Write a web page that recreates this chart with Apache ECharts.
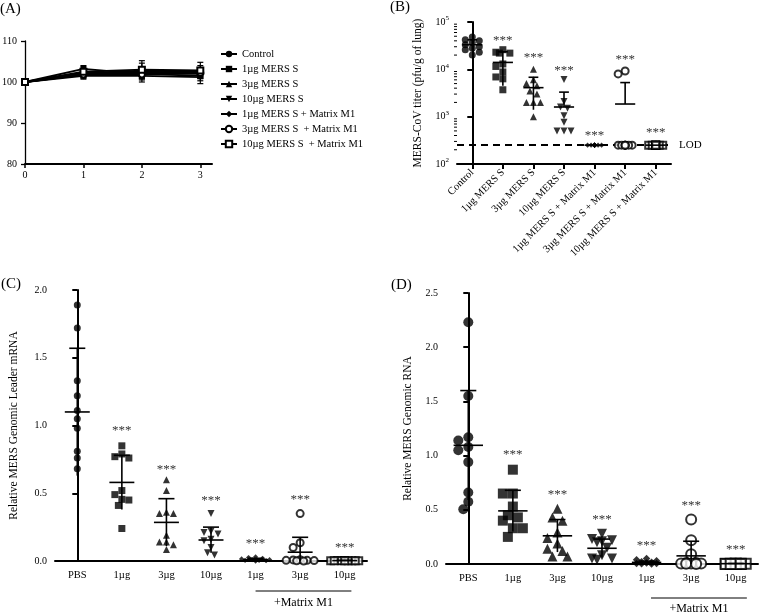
<!DOCTYPE html>
<html><head><meta charset="utf-8">
<script src="https://cdn.jsdelivr.net/npm/echarts@6/dist/echarts.min.js"></script>
<style>html,body{margin:0;padding:0;background:#fff}#c{width:761px;height:616px}</style>
</head><body><div id="c"></div>
<script>
const FONT = '"Liberation Serif","Times New Roman",serif';

// ---------- Panel A: body weight ----------
const daysA = [0, 1, 2, 3];
const namesA = ['Control', '1µg MERS S', '3µg MERS S', '10µg MERS S', '1µg MERS S + Matrix M1', '3µg MERS S  + Matrix M1', '10µg MERS S  + Matrix M1'];
const wControl = [100, 102.2, 102.5, 102.3];
const w1ug = [100, 103.2, 102.0, 101.5];
const w3ug = [100, 101.8, 102.8, 102.5];
const w10ug = [100, 101.5, 101.5, 101.2];
const w1ugM1 = [100, 102.0, 102.2, 102.0];
const w3ugM1 = [100, 101.8, 101.8, 102.2];
const w10ugM1 = [100, 102.5, 103.0, 102.8];
const sdControl = [0, 0.8, 1.2, 1.0];
const sd1ug = [0, 0.8, 1.5, 1.2];
const sd3ug = [0, 0.9, 1.8, 1.5];
const sd10ug = [0, 0.8, 1.5, 1.6];
const sd1ugM1 = [0, 0.5, 1.0, 1.0];
const sd3ugM1 = [0, 0.7, 1.0, 0.8];
const sd10ugM1 = [0, 0.6, 2.2, 2.0];
const yTicksA = [80, 90, 100, 110];

// ---------- Panel B: lung titer (log) ----------
const catsB = ['Control', '1µg MERS S', '3µg MERS S', '10µg MERS S', '1µg MERS S + Matrix M1', '3µg MERS S + Matrix M1', '10µg MERS S + Matrix M1'];
const bControl = [48000, 42000, 40000, 37000, 33000, 30000, 28000, 26000, 23000, 20000];
const b1ug = [26000, 23000, 22000, 22000, 13000, 11500, 8800, 6900, 6300, 3700];
const b3ug = [10000, 6000, 5000, 4500, 3500, 3000, 2000, 2000, 2000, 1000];
const b10ug = [6100, 2100, 1600, 1500, 1050, 760, 500, 500, 500];
const b1ugM1 = [250, 250, 250, 250, 250, 250, 250, 250, 250, 250];
const b3ugM1 = [9200, 8000, 250, 250, 250, 250, 250, 250, 250, 250];
const b10ugM1 = [250, 250, 250, 250, 250, 250, 250, 250, 250, 250];
const meanB = [33000, 14000, 4100, 1600, 250, 1850, 250];
const sdB = [9000, 9500, 2700, 1700, 0, 3400, 0];
const astB = [null, 45000, 20000, 10500, 450, 18000, 520];
const LOD = 250;

// ---------- Panel C: genomic leader mRNA ----------
const catsCD = ['PBS', '1µg', '3µg', '10µg', '1µg', '3µg', '10µg'];
const cPBS = [1.89, 1.72, 1.33, 1.22, 1.11, 1.05, 0.98, 0.81, 0.76, 0.68];
const c1ug = [0.85, 0.79, 0.77, 0.76, 0.52, 0.49, 0.455, 0.45, 0.41, 0.24];
const c3ug = [0.60, 0.52, 0.36, 0.35, 0.35, 0.19, 0.14, 0.14, 0.12, 0.085];
const c10ug = [0.35, 0.22, 0.21, 0.20, 0.16, 0.15, 0.10, 0.06, 0.045];
const c1ugM1 = [0.03, 0.025, 0.02, 0.015, 0.01, 0.01, 0.005, 0.005, 0.002, 0.0];
const c3ugM1 = [0.35, 0.135, 0.10, 0.01, 0.008, 0.005, 0.005, 0.003, 0.002, 0.0];
const c10ugM1 = [0.003, 0.003, 0.002, 0.002, 0.002, 0.002, 0.001, 0.001, 0.001, 0.001];
const meanC = [1.10, 0.58, 0.285, 0.155, 0.01, 0.065, 0.003];
const sdC = [0.47, 0.20, 0.175, 0.095, 0.01, 0.11, 0.002];
const astC = [null, 0.98, 0.69, 0.465, 0.15, 0.47, 0.12];

// ---------- Panel D: genomic RNA ----------
const dPBS = [2.23, 1.55, 1.17, 1.14, 1.08, 1.05, 0.94, 0.66, 0.575, 0.505];
const d1ug = [0.87, 0.65, 0.65, 0.53, 0.45, 0.43, 0.40, 0.33, 0.33, 0.25];
const d3ug = [0.51, 0.43, 0.40, 0.29, 0.24, 0.19, 0.14, 0.12, 0.07, 0.07];
const d10ug = [0.28, 0.23, 0.22, 0.21, 0.20, 0.15, 0.08, 0.05, 0.05, 0.04];
const d1ugM1 = [0.05, 0.04, 0.03, 0.02, 0.015, 0.01, 0.005, 0.005, 0.002, 0.0];
const d3ugM1 = [0.41, 0.22, 0.09, 0.01, 0.01, 0.005, 0.005, 0.005, 0.002, 0.0];
const d10ugM1 = [0.003, 0.003, 0.002, 0.002, 0.002, 0.002, 0.001, 0.001, 0.001, 0.001];
const meanD = [1.095, 0.49, 0.26, 0.145, 0.015, 0.075, 0.003];
const sdD = [0.505, 0.19, 0.15, 0.085, 0.012, 0.135, 0.002];
const astD = [null, 1.03, 0.66, 0.43, 0.19, 0.56, 0.16];

// ---------- layout ----------
const GA = {left: 25, top: 41, width: 187, height: 123};
const GB = {left: 457, top: 22, width: 214, height: 142};
const GC = {left: 55, top: 290, width: 312, height: 271};
const GD = {left: 446, top: 293, width: 312, height: 271};

const INV_TRI = 'path://M0,0L2,0L1,1.8Z';
const groupSymbols = ['circle', 'rect', 'triangle', INV_TRI, 'diamond', 'emptyCircle', 'emptyRect'];

function swarm(vals, toPx, catPx, size, maxFrac) {
  const idx = vals.map((v, i) => i).sort((a, b) => vals[b] - vals[a]);
  const step = size * 0.5, minD = size * 0.9, maxOff = maxFrac * catPx;
  const cands = [0];
  for (let k = 1; k * step <= maxOff + 0.01; k++) cands.push(-k * step, k * step);
  const placed = [], offs = new Array(vals.length);
  idx.forEach(i => {
    const py = toPx(vals[i]);
    let best = 0, bestD = -1;
    for (const c of cands) {
      let d = Infinity;
      for (const p of placed) { const dd = Math.hypot(p[0] - c, p[1] - py); if (dd < d) d = dd; }
      if (d >= minD) { best = c; bestD = d; break; }
      if (d > bestD) { bestD = d; best = c; }
    }
    placed.push([best, py]);
    offs[i] = best / catPx;
  });
  return offs;
}

function groupSeries(groups, xi, yi, size, toPx, catPx, extra) {
  return groups.map((vals, g) => {
    const offs = swarm(vals, toPx, catPx, size, 0.33);
    const s = {
      type: 'scatter', xAxisIndex: xi, yAxisIndex: yi, silent: true, z: 3,
      symbol: groupSymbols[g], symbolSize: g === 4 ? size * 0.75 : size,
      itemStyle: {color: '#000'},
      data: vals.map((v, i) => [g + offs[i], v])
    };
    if (g === 0 && extra) Object.assign(s, extra);
    return s;
  });
}

function errSeries(means, sds, xi, yi, mw, cw, isLog) {
  return {
    type: 'custom', xAxisIndex: xi, yAxisIndex: yi, z: 5, silent: true,
    data: means.map((m, i) => [i, m, (m - sds[i] > 0 ? m - sds[i] : (isLog ? '-' : 0)), m + sds[i], sds[i]]),
    renderItem(params, api) {
      const i = api.value(0), m = api.value(1), lo = api.value(2), hi = api.value(3), sd = api.value(4);
      const pm = api.coord([i, m]);
      const dx = api.coord([i + 1, m])[0] - pm[0];
      const st = {stroke: '#000', lineWidth: 1.6};
      const ch = [{type: 'line', shape: {x1: pm[0] - dx * mw, y1: pm[1], x2: pm[0] + dx * mw, y2: pm[1]}, style: st}];
      if (sd > 0) {
        const ph = api.coord([i, hi]);
        let yb = pm[1];
        ch.push({type: 'line', shape: {x1: pm[0] - dx * cw, y1: ph[1], x2: pm[0] + dx * cw, y2: ph[1]}, style: st});
        if (!isNaN(lo)) yb = api.coord([i, lo])[1];
        ch.push({type: 'line', shape: {x1: pm[0], y1: ph[1], x2: pm[0], y2: yb}, style: st});
      }
      return {type: 'group', children: ch};
    }
  };
}

function starSeries(vals, xi, yi) {
  return {
    type: 'custom', xAxisIndex: xi, yAxisIndex: yi, z: 6, silent: true,
    data: vals.map((v, i) => v == null ? null : [i, v]).filter(d => d),
    renderItem(params, api) {
      const p = api.coord([api.value(0), api.value(1)]);
      return {type: 'text', x: p[0], y: p[1] - 4,
        style: {text: '***', fill: '#333', fontSize: 13, fontFamily: FONT, align: 'center', verticalAlign: 'top'}};
    }
  };
}

function bracketSeries(xi, yi, from, to, lineOff, textOff) {
  return {
    type: 'custom', xAxisIndex: xi, yAxisIndex: yi, z: 6, silent: true,
    data: [[from, to]],
    renderItem(params, api) {
      const p1 = api.coord([api.value(0), 0]);
      const p2 = api.coord([api.value(1), 0]);
      const y = p1[1] + lineOff;
      return {type: 'group', children: [
        {type: 'line', shape: {x1: p1[0], y1: y, x2: p2[0], y2: y}, style: {stroke: '#000', lineWidth: 1}},
        {type: 'text', x: (p1[0] + p2[0]) / 2, y: p1[1] + textOff,
          style: {text: '+Matrix M1', fill: '#000', fontSize: 12, fontFamily: FONT, align: 'center', verticalAlign: 'middle'}}
      ]};
    }
  };
}

// ---------- axes ----------
const axLine = w => ({show: true, lineStyle: {color: '#000', width: w}});
const lbl = (size, margin) => ({color: '#000', fontSize: size, fontFamily: FONT, margin: margin});
const hiddenX = (gi) => ({gridIndex: gi, type: 'value', min: -0.5, max: 6.5, show: false});

const xAxes = [
  {gridIndex: 0, type: 'value', min: 0, max: 3.2, axisLine: axLine(2),
    axisTick: {show: true, length: 4, customValues: daysA, lineStyle: {width: 1.5, color: '#000'}},
    axisLabel: Object.assign(lbl(10, 6), {customValues: daysA}), splitLine: {show: false}},
  {gridIndex: 1, type: 'category', data: catsB, axisLine: axLine(2),
    axisTick: {show: true, alignWithLabel: true, length: 5, lineStyle: {width: 2, color: '#000'}},
    axisLabel: Object.assign(lbl(10.5, 7), {rotate: 45, interval: 0})},
  hiddenX(1),
  {gridIndex: 2, type: 'category', data: catsCD.map((c, i) => String(i)), axisLine: axLine(2), axisTick: {show: false},
    axisLabel: Object.assign(lbl(10.5, 9), {interval: 0, formatter: (v, i) => catsCD[i]})},
  hiddenX(2),
  {gridIndex: 3, type: 'category', data: catsCD.map((c, i) => String(i)), axisLine: axLine(2), axisTick: {show: false},
    axisLabel: Object.assign(lbl(10.5, 9), {interval: 0, formatter: (v, i) => catsCD[i]})},
  hiddenX(3)
];

const nameStyle = {color: '#000', fontSize: 11.5, fontFamily: FONT};
const yAxes = [
  {gridIndex: 0, type: 'value', min: yTicksA[0], max: yTicksA[yTicksA.length - 1], interval: 10, axisLine: axLine(1.3),
    axisTick: {show: true, length: 4, lineStyle: {width: 1.3, color: '#000'}}, axisLabel: lbl(10, 8), splitLine: {show: false}},
  {gridIndex: 1, type: 'log', logBase: 10, min: 100, max: 100000, axisLine: axLine(2),
    axisTick: {show: true, length: 5, lineStyle: {width: 2, color: '#000'}},
    axisLabel: Object.assign(lbl(10, 8), {
      formatter: v => '{a|10}{b|' + Math.round(Math.log10(v)) + '}',
      rich: {a: {fontSize: 10, fontFamily: FONT, color: '#000'}, b: {fontSize: 7, fontFamily: FONT, color: '#000', padding: [0, 0, 7, 0]}}
    }),
    splitLine: {show: false}, minorTick: {show: false},
    name: 'MERS-CoV titer (pfu/g of lung)', nameLocation: 'middle', nameGap: 33, nameTextStyle: nameStyle},
  {gridIndex: 2, type: 'value', min: 0, max: 2, interval: 0.5, axisLine: axLine(2),
    axisTick: {show: true, length: 5, lineStyle: {width: 2, color: '#000'}},
    axisLabel: Object.assign(lbl(10, 8), {formatter: v => v.toFixed(1)}), splitLine: {show: false},
    name: 'Relative MERS Genomic Leader mRNA', nameLocation: 'middle', nameGap: 35, nameTextStyle: nameStyle},
  {gridIndex: 3, type: 'value', min: 0, max: 2.5, interval: 0.5, axisLine: axLine(2),
    axisTick: {show: true, length: 5, lineStyle: {width: 2, color: '#000'}},
    axisLabel: Object.assign(lbl(10, 8), {formatter: v => v.toFixed(1)}), splitLine: {show: false},
    name: 'Relative MERS Genomic RNA', nameLocation: 'middle', nameGap: 32, nameTextStyle: nameStyle}
];

// ---------- series ----------
const wA = [wControl, w1ug, w3ug, w10ug, w1ugM1, w3ugM1, w10ugM1];
const sdA = [sdControl, sd1ug, sd3ug, sd10ug, sd1ugM1, sd3ugM1, sd10ugM1];
const symA = ['circle', 'rect', 'triangle', INV_TRI, 'diamond', 'emptyCircle', 'emptyRect'];
const series = [];

wA.forEach((w, k) => {
  series.push({
    type: 'line', name: namesA[k], xAxisIndex: 0, yAxisIndex: 0, z: 4,
    symbol: symA[k], symbolSize: k === 4 ? 5 : 6, showSymbol: true,
    itemStyle: {color: '#000'}, lineStyle: {color: '#000', width: 1.8},
    data: daysA.map((d, i) => [d, w[i]])
  });
});
const errA = [];
wA.forEach((w, k) => daysA.forEach((d, i) => { if (sdA[k][i] > 0) errA.push([d, w[i] - sdA[k][i], w[i] + sdA[k][i]]); }));
series.push({
  type: 'custom', xAxisIndex: 0, yAxisIndex: 0, z: 3, silent: true, data: errA,
  renderItem(params, api) {
    const pl = api.coord([api.value(0), api.value(1)]);
    const ph = api.coord([api.value(0), api.value(2)]);
    const st = {stroke: '#000', lineWidth: 1.2};
    return {type: 'group', children: [
      {type: 'line', shape: {x1: pl[0], y1: pl[1], x2: ph[0], y2: ph[1]}, style: st},
      {type: 'line', shape: {x1: pl[0] - 3, y1: pl[1], x2: pl[0] + 3, y2: pl[1]}, style: st},
      {type: 'line', shape: {x1: ph[0] - 3, y1: ph[1], x2: ph[0] + 3, y2: ph[1]}, style: st}
    ]};
  }
});

// Panel B
const decB = GB.height / 3;
const catB = GB.width / 7;
series.push(...groupSeries([bControl, b1ug, b3ug, b10ug, b1ugM1, b3ugM1, b10ugM1], 2, 1, 7,
  v => Math.log10(v) * decB, catB, {
    markLine: {silent: true, symbol: 'none', z: 2, data: [{yAxis: LOD}],
      lineStyle: {type: [7, 5], width: 2, color: '#000'},
      label: {show: true, position: 'end', formatter: 'LOD', color: '#000', fontSize: 11, fontFamily: FONT, distance: 8}}
  }));
series.push(errSeries(meanB, sdB, 2, 1, 0.33, 0.16, true));
series.push(starSeries(astB, 2, 1));
const minorB = [];
for (let e = 2; e <= 4; e++) for (let m = 2; m <= 9; m++) minorB.push([-0.5, m * Math.pow(10, e)]);
series.push({
  type: 'custom', xAxisIndex: 2, yAxisIndex: 1, z: 6, silent: true, data: minorB,
  renderItem(params, api) {
    const p = api.coord([api.value(0), api.value(1)]);
    return {type: 'line', shape: {x1: p[0] - 3, y1: p[1], x2: p[0], y2: p[1]}, style: {stroke: '#000', lineWidth: 1}};
  }
});

// Panel C
const catC = GC.width / 7;
series.push(...groupSeries([cPBS, c1ug, c3ug, c10ug, c1ugM1, c3ugM1, c10ugM1], 4, 2, 7,
  v => v * GC.height / 2, catC));
series.push(errSeries(meanC, sdC, 4, 2, 0.28, 0.18, false));
series.push(starSeries(astC, 4, 2));
series.push(bracketSeries(4, 2, 4.0, 6.15, 30, 42));

// Panel D
const catD = GD.width / 7;
series.push(...groupSeries([dPBS, d1ug, d3ug, d10ug, d1ugM1, d3ugM1, d10ugM1], 6, 3, 10,
  v => v * GD.height / 2.5, catD));
series.push(errSeries(meanD, sdD, 6, 3, 0.33, 0.18, false));
series.push(starSeries(astD, 6, 3));
series.push(bracketSeries(6, 3, 4.1, 6.25, 34, 45));

const panelLabel = (t, x, y) => ({type: 'text', left: x, top: y,
  style: {text: t, fill: '#000', fontSize: 15, fontFamily: FONT}});

const chart = echarts.init(document.getElementById('c'));
chart.setOption({
  animation: false,
  backgroundColor: '#fff',
  textStyle: {fontFamily: FONT},
  grid: [GA, GB, GC, GD].map(g => Object.assign({containLabel: false, outerBoundsMode: 'none'}, g)),
  xAxis: xAxes,
  yAxis: yAxes,
  legend: {
    data: namesA, orient: 'vertical', left: 215, top: 43, itemWidth: 16, itemHeight: 8, itemGap: 3,
    selectedMode: false, textStyle: {color: '#000', fontSize: 10.5, fontFamily: FONT, lineHeight: 12}
  },
  graphic: [
    panelLabel('(A)', 0, 2),
    panelLabel('(B)', 390, 0),
    panelLabel('(C)', 1, 277),
    panelLabel('(D)', 391, 278)
  ],
  series: series
});
</script>
</body></html>
